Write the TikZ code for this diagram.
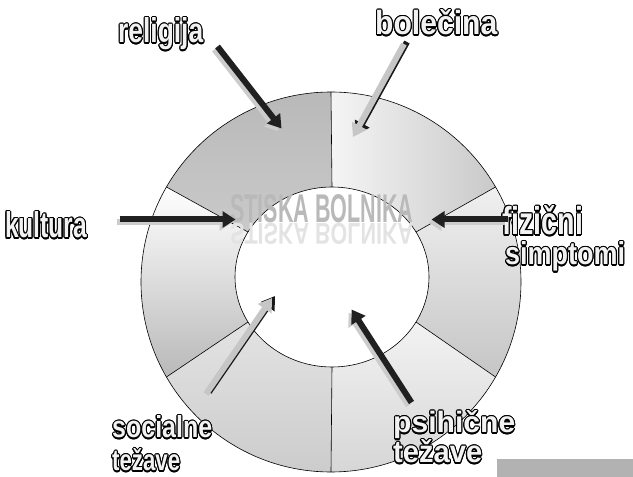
\documentclass[tikz,border=0pt]{standalone}
\usepackage{fontspec}
\setmainfont{Liberation Sans}
\usepackage{contour}
\contourlength{1.1pt}
\usetikzlibrary{arrows.meta}
\newcommand{\wordart}[3]{{\color{gray!10}\contour{black}{\resizebox{#1}{#2}{\bfseries #3}}}}
\tikzset{
  seg/.style 2 args={insert path={({331+190*cos(#1)},{195+190*sin(#1)}) arc[start angle=#1,end angle=#2,radius=190] -- ({332+97*cos(#2)},{200+90*sin(#2)}) arc[start angle=#2,end angle=#1,x radius=97,y radius=90] -- cycle}},
  edge/.style={draw=black, line width=0.6pt},
  lab/.style={anchor=base west, inner sep=0pt},
  arr/.style={line width=6pt, -{Triangle[width=16pt,length=13pt]}},
  darkface/.style={arr, draw=gray!25!black, transform canvas={xshift=1.5pt,yshift=1.5pt}},
  lightface/.style={arr, draw=gray!40, transform canvas={xshift=-1.5pt,yshift=-1.5pt}},
  darkedge/.style={arr, draw=gray!20!black, transform canvas={xshift=2pt,yshift=1pt}},
  lightbody/.style={arr, draw=gray!45, transform canvas={xshift=-1pt,yshift=-1pt}},
}
\begin{document}
\begin{tikzpicture}[x=1pt,y=1pt]
\useasboundingbox (0,0) rectangle (633,477);
% ring segments
\shade[seg={90}{150}, top color=gray!55, bottom color=gray!42];
\shade[seg={30}{90}, left color=gray!8, right color=gray!42];
\shade[seg={-30}{30}, top color=gray!12, bottom color=gray!45];
\shade[seg={270}{330}, top color=gray!10, bottom color=gray!32];
\shade[seg={210}{270}, top color=gray!22, bottom color=gray!40];
\shade[seg={150}{210}, top color=white, bottom color=gray!55];
\draw[edge] (331,195) circle[radius=190];
\draw[edge] (332,200) ellipse[x radius=97,y radius=90];
\foreach \a in {30,90,150,210,270,330}
  \draw[edge] ({331+190*cos(\a)},{195+190*sin(\a)}) -- ({332+97*cos(\a)},{200+90*sin(\a)});
% title and its reflection
\node[lab] (title) at (230,254) {\color{gray!55}\resizebox{183pt}{28pt}{\bfseries STISKA BOLNIKA}};
\node[anchor=north west, inner sep=0pt] (titlerefl) at (230,254) {\color{gray!22}\scalebox{1}[-0.75]{\resizebox{183pt}{28pt}{\bfseries STISKA BOLNIKA}}};
% labels
\node[lab] (rel) at (118,434) {\wordart{85pt}{25pt}{religija}};
\node[lab] (bol) at (375,442) {\wordart{122pt}{25pt}{bolečina}};
\node[lab] (kul) at (5,239) {\wordart{82pt}{26pt}{kultura}};
\node[lab] (fiz1) at (502,242) {\wordart{81pt}{29pt}{fizični}};
\node[lab] (fiz2) at (505,212) {\wordart{120pt}{23pt}{simptomi}};
\node[lab] (soc1) at (112,39) {\wordart{100pt}{22pt}{socialne}};
\node[lab] (soc2) at (112,6) {\wordart{68pt}{22pt}{težave}};
\node[lab] (psi1) at (393,44) {\wordart{122pt}{22pt}{psihične}};
\node[lab] (psi2) at (393,14) {\wordart{89pt}{23pt}{težave}};
% arrow end points
\coordinate (relA) at (216,429); \coordinate (relB) at (280,347);
\coordinate (bolA) at (405,434); \coordinate (bolB) at (354,341);
\coordinate (kulA) at (118,256); \coordinate (kulB) at (234,256);
\coordinate (fizA) at (506,256); \coordinate (fizB) at (430,256);
\coordinate (socA) at (207,84);  \coordinate (socB) at (273,180);
\coordinate (psiA) at (410,73);  \coordinate (psiB) at (350,166);
% dark arrows
\draw[lightface] (relA) -- (relB); \draw[darkface] (relA) -- (relB);
\draw[lightface] (kulA) -- (kulB); \draw[darkface] (kulA) -- (kulB);
\draw[lightface] (fizA) -- (fizB); \draw[darkface] (fizA) -- (fizB);
\draw[lightface] (psiA) -- (psiB); \draw[darkface] (psiA) -- (psiB);
% light arrows
\draw[darkedge] (bolA) -- (bolB); \draw[lightbody] (bolA) -- (bolB);
\draw[darkedge] (socA) -- (socB); \draw[lightbody] (socA) -- (socB);
% bar
\fill[gray!60] (497,0) rectangle (633,18);
\end{tikzpicture}
\end{document}
